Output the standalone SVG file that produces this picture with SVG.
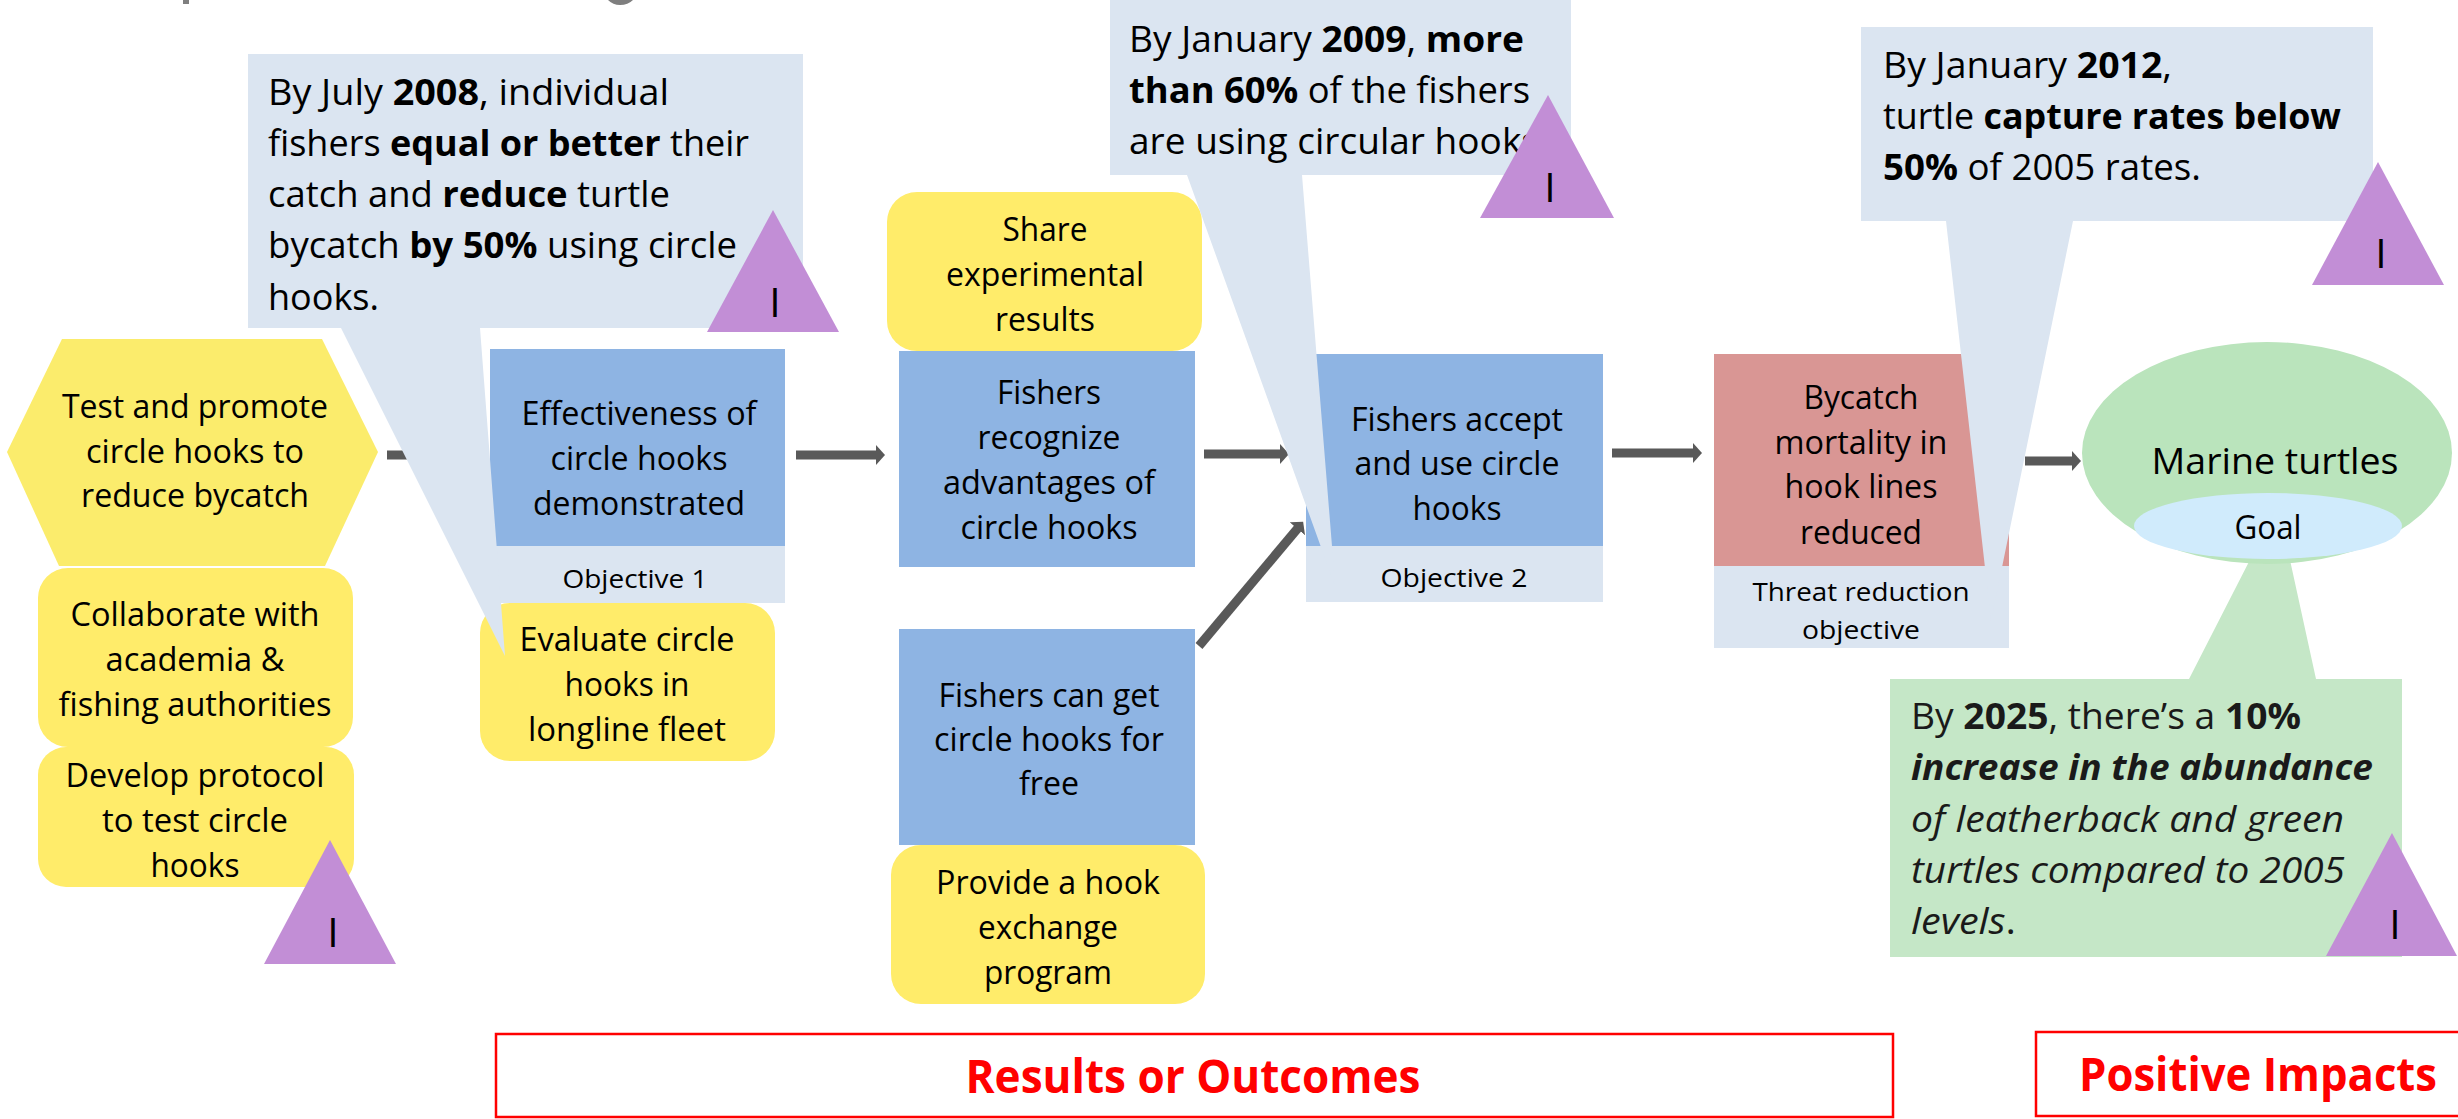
<svg xmlns="http://www.w3.org/2000/svg" width="2458" height="1119" viewBox="0 0 2458 1119">
<style>
text{font-family:"Open Sans","Noto Sans","Liberation Sans",sans-serif;fill:#000;transform:translateY(1.5px)}
.n{font-size:32px;text-anchor:middle}
.s{font-size:26px;text-anchor:middle}
.c{font-size:36px}
.g{fill:#1a1a1a}
.it{font-style:italic}
.i{font-size:36px;text-anchor:middle}
.t{font-size:41px;text-anchor:middle}
.h{font-size:46px;font-weight:700;fill:#f00;text-anchor:middle}
.b{font-weight:700}
.blue{fill:#8eb4e3}.yel{fill:#ffec6a}.pale{fill:#dbe5f1}.pur{fill:#c28ed6}
.red{fill:none;stroke:#f00;stroke-width:2.5}
.arr{stroke:#595959;stroke-width:9;fill:none;marker-end:url(#ah)}
</style>
<defs><marker id="ah" markerUnits="userSpaceOnUse" markerWidth="10" markerHeight="20" refX="1" refY="10" orient="auto"><path d="M0 0L9 10L0 20Z" fill="#595959"/></marker></defs>
<path d="M183 0H189V4H183ZM608 0H633Q628 5 620 5Q613 5 608 0Z" fill="#7f7f7f"/>
<g id="connectors">
<path class="arr" d="M387 455H480"/>
<path class="arr" d="M796 455H877"/>
<path class="arr" d="M1204 454H1281"/>
<path class="arr" d="M1612 453H1694"/>
<path class="arr" d="M2025 461H2073"/>
<path class="arr" d="M1199 646L1298 528"/>
</g>
<g id="node-strategy"><path d="M62 339H322L378 452L325 566H59L7 452Z" fill="#fbec6c"/>
<text class="n" x="195" y="416" textLength="266" lengthAdjust="spacingAndGlyphs">Test and promote</text><text class="n" x="195" y="461" textLength="218" lengthAdjust="spacingAndGlyphs">circle hooks to</text><text class="n" x="195" y="505" textLength="228" lengthAdjust="spacingAndGlyphs">reduce bycatch</text></g>
<g id="node-collaborate"><rect class="yel" x="38" y="568" width="315" height="179" rx="30"/>
<text class="n" x="195" y="624" textLength="249" lengthAdjust="spacingAndGlyphs">Collaborate with</text><text class="n" x="195" y="669" textLength="179" lengthAdjust="spacingAndGlyphs">academia &amp;</text><text class="n" x="195" y="714" textLength="273" lengthAdjust="spacingAndGlyphs">fishing authorities</text></g>
<g id="node-develop"><rect class="yel" x="38" y="747" width="316" height="140" rx="28"/>
<text class="n" x="195" y="785" textLength="259" lengthAdjust="spacingAndGlyphs">Develop protocol</text><text class="n" x="195" y="830" textLength="186" lengthAdjust="spacingAndGlyphs">to test circle</text><text class="n" x="195" y="875" textLength="89" lengthAdjust="spacingAndGlyphs">hooks</text></g>
<g id="node-evaluate"><rect class="yel" x="480" y="603" width="295" height="158" rx="30"/>
<text class="n" x="627" y="649" textLength="215" lengthAdjust="spacingAndGlyphs">Evaluate circle</text><text class="n" x="627" y="694" textLength="125" lengthAdjust="spacingAndGlyphs">hooks in</text><text class="n" x="627" y="739" textLength="198" lengthAdjust="spacingAndGlyphs">longline fleet</text></g>
<g id="node-objective1"><rect class="pale" x="490" y="546" width="295" height="57"/>
<rect class="blue" x="490" y="349" width="295" height="197"/>
<text class="n" x="639" y="423" textLength="235" lengthAdjust="spacingAndGlyphs">Effectiveness of</text><text class="n" x="639" y="468" textLength="177" lengthAdjust="spacingAndGlyphs">circle hooks</text><text class="n" x="639" y="513" textLength="212" lengthAdjust="spacingAndGlyphs">demonstrated</text>
<text class="s" x="635" y="586" textLength="145" lengthAdjust="spacingAndGlyphs">Objective 1</text></g>
<g id="node-share"><rect class="yel" x="887" y="192" width="315" height="159" rx="30"/>
<text class="n" x="1045" y="239" textLength="85" lengthAdjust="spacingAndGlyphs">Share</text><text class="n" x="1045" y="284" textLength="198" lengthAdjust="spacingAndGlyphs">experimental</text><text class="n" x="1045" y="329" textLength="100" lengthAdjust="spacingAndGlyphs">results</text></g>
<g id="node-recognize"><rect class="blue" x="899" y="351" width="296" height="216"/>
<text class="n" x="1049" y="402" textLength="104" lengthAdjust="spacingAndGlyphs">Fishers</text><text class="n" x="1049" y="447" textLength="143" lengthAdjust="spacingAndGlyphs">recognize</text><text class="n" x="1049" y="492" textLength="212" lengthAdjust="spacingAndGlyphs">advantages of</text><text class="n" x="1049" y="537" textLength="177" lengthAdjust="spacingAndGlyphs">circle hooks</text></g>
<g id="node-free"><rect class="blue" x="899" y="629" width="296" height="216"/>
<text class="n" x="1049" y="705" textLength="221" lengthAdjust="spacingAndGlyphs">Fishers can get</text><text class="n" x="1049" y="749" textLength="230" lengthAdjust="spacingAndGlyphs">circle hooks for</text><text class="n" x="1049" y="793" textLength="60" lengthAdjust="spacingAndGlyphs">free</text></g>
<g id="node-provide"><rect class="yel" x="891" y="845" width="314" height="159" rx="30"/>
<text class="n" x="1048" y="892" textLength="224" lengthAdjust="spacingAndGlyphs">Provide a hook</text><text class="n" x="1048" y="937" textLength="140" lengthAdjust="spacingAndGlyphs">exchange</text><text class="n" x="1048" y="982" textLength="128" lengthAdjust="spacingAndGlyphs">program</text></g>
<g id="node-objective2"><rect class="pale" x="1306" y="546" width="297" height="56"/>
<rect class="blue" x="1306" y="354" width="297" height="192"/>
<text class="n" x="1457" y="429" textLength="212" lengthAdjust="spacingAndGlyphs">Fishers accept</text><text class="n" x="1457" y="473" textLength="205" lengthAdjust="spacingAndGlyphs">and use circle</text><text class="n" x="1457" y="518" textLength="89" lengthAdjust="spacingAndGlyphs">hooks</text>
<text class="s" x="1454" y="585" textLength="147" lengthAdjust="spacingAndGlyphs">Objective 2</text></g>
<g id="node-threat"><rect class="pale" x="1714" y="566" width="295" height="82"/>
<rect x="1714" y="354" width="295" height="212" fill="#d99694"/>
<text class="n" x="1861" y="407" textLength="115" lengthAdjust="spacingAndGlyphs">Bycatch</text><text class="n" x="1861" y="452" textLength="173" lengthAdjust="spacingAndGlyphs">mortality in</text><text class="n" x="1861" y="496" textLength="153" lengthAdjust="spacingAndGlyphs">hook lines</text><text class="n" x="1861" y="542" textLength="122" lengthAdjust="spacingAndGlyphs">reduced</text>
<text class="s" x="1861" y="599" textLength="217" lengthAdjust="spacingAndGlyphs">Threat reduction</text><text class="s" x="1861" y="637" textLength="118" lengthAdjust="spacingAndGlyphs">objective</text></g>
<g id="callout-2008"><path class="pale" d="M248 54H803V328H480L505 656L341 328H248Z"/>
<text class="c" x="268" y="103" textLength="401" lengthAdjust="spacingAndGlyphs">By July <tspan class="b">2008</tspan>, individual</text>
<text class="c" x="268" y="154" textLength="481" lengthAdjust="spacingAndGlyphs">fishers <tspan class="b">equal or better</tspan> their</text>
<text class="c" x="268" y="205" textLength="402" lengthAdjust="spacingAndGlyphs">catch and <tspan class="b">reduce</tspan> turtle</text>
<text class="c" x="268" y="256" textLength="469" lengthAdjust="spacingAndGlyphs">bycatch <tspan class="b">by 50%</tspan> using circle</text>
<text class="c" x="268" y="308" textLength="111" lengthAdjust="spacingAndGlyphs">hooks.</text></g>
<g id="callout-2009"><path class="pale" d="M1110 0H1571V175H1302L1332 546L1335 586L1187 175H1110Z"/>
<text class="c" x="1129" y="50" textLength="395" lengthAdjust="spacingAndGlyphs">By January <tspan class="b">2009</tspan>, <tspan class="b">more</tspan></text>
<text class="c" x="1129" y="101" textLength="401" lengthAdjust="spacingAndGlyphs"><tspan class="b">than 60%</tspan> of the fishers</text>
<text class="c" x="1129" y="152" textLength="410" lengthAdjust="spacingAndGlyphs">are using circular hooks</text></g>
<g id="callout-2012"><path class="pale" d="M1861 27H2373V221H2073L1991 621L1946 221H1861Z"/>
<text class="c" x="1883" y="76" textLength="289" lengthAdjust="spacingAndGlyphs">By January <tspan class="b">2012</tspan>,</text>
<text class="c" x="1883" y="127" textLength="458" lengthAdjust="spacingAndGlyphs">turtle <tspan class="b">capture rates below</tspan></text>
<text class="c" x="1883" y="178" textLength="318" lengthAdjust="spacingAndGlyphs"><tspan class="b">50%</tspan> of 2005 rates.</text></g>
<g id="callout-2025"><path d="M1890 679H2189L2278 505L2316 679H2402V957H1890Z" fill="#c5e7c7"/>
<text class="c g" x="1911" y="727" textLength="390" lengthAdjust="spacingAndGlyphs">By <tspan class="b">2025</tspan>, there’s a <tspan class="b">10%</tspan></text>
<text class="c g it b" x="1911" y="778" textLength="462" lengthAdjust="spacingAndGlyphs">increase in the abundance</text>
<text class="c g it" x="1911" y="830" textLength="433" lengthAdjust="spacingAndGlyphs">of leatherback and green</text>
<text class="c g it" x="1911" y="881" textLength="434" lengthAdjust="spacingAndGlyphs">turtles compared to 2005</text>
<text class="c g" x="1911" y="932" textLength="105" lengthAdjust="spacingAndGlyphs"><tspan class="it">levels</tspan>.</text></g>
<g id="node-goal"><ellipse cx="2267" cy="453" rx="185" ry="111" fill="#bae4bc"/>
<ellipse cx="2268" cy="526" rx="134" ry="33" fill="#d0ebfc"/>
<text class="i" x="2275" y="472" textLength="247" lengthAdjust="spacingAndGlyphs">Marine turtles</text>
<text class="n" x="2268" y="537" textLength="67" lengthAdjust="spacingAndGlyphs">Goal</text></g>
<g id="indicator-1"><path class="pur" d="M330 840L396 964H264Z"/><text class="t" x="333" y="945">I</text></g>
<g id="indicator-2"><path class="pur" d="M773 210L839 332H707Z"/><text class="t" x="775" y="315">I</text></g>
<g id="indicator-3"><path class="pur" d="M1548 95L1614 218H1480Z"/><text class="t" x="1550" y="200">I</text></g>
<g id="indicator-4"><path class="pur" d="M2378 162L2444 285H2312Z"/><text class="t" x="2381" y="266">I</text></g>
<g id="indicator-5"><path class="pur" d="M2392 833L2457 956H2326Z"/><text class="t" x="2395" y="937">I</text></g>
<g id="label-results"><rect class="red" x="496" y="1034" width="1397" height="83"/><text class="h" x="1193" y="1091" textLength="455" lengthAdjust="spacingAndGlyphs">Results or Outcomes</text></g>
<g id="label-impacts"><path class="red" d="M2458 1032H2036V1116H2458"/><text class="h" x="2258" y="1089" textLength="358" lengthAdjust="spacingAndGlyphs">Positive Impacts</text></g>
</svg>
